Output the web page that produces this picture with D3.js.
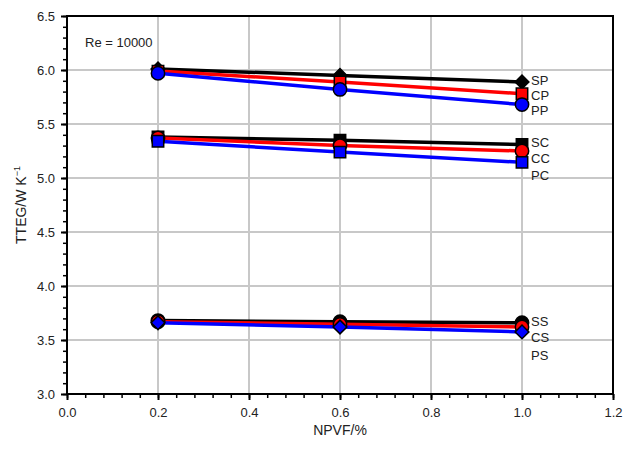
<!DOCTYPE html>
<html>
<head>
<meta charset="utf-8">
<script src="https://cdn.jsdelivr.net/npm/d3@7"></script>
<style>
  body { margin: 0; background: #fff; }
  svg { font-family: "Liberation Sans", Arial, sans-serif; }
  .grid line { stroke: #c8c8c8; stroke-width: 2; }
  .tick-label { font-size: 13px; fill: #222; }
  .series-label { font-size: 13px; fill: #222; }
</style>
</head>
<body>
<svg width="623" height="456"></svg>
<script>
// data
const npvf = [0.2, 0.6, 1.0];
const names = ["SP", "CP", "PP", "SC", "CC", "PC", "SS", "CS", "PS"];
const colors = ["#000", "#ff0000", "#0000ff", "#000", "#ff0000", "#0000ff", "#000", "#ff0000", "#0000ff"];
const markers = ["diamond", "square", "circle", "square", "circle", "square", "circle", "circle", "diamond"];
const SP = [6.01, 5.95, 5.89];
const CP = [5.99, 5.89, 5.78];
const PP = [5.97, 5.82, 5.68];
const SC = [5.38, 5.35, 5.31];
const CC = [5.37, 5.30, 5.25];
const PC = [5.34, 5.24, 5.145];
const SS = [3.68, 3.67, 3.66];
const CS = [3.67, 3.645, 3.62];
const PS = [3.66, 3.62, 3.575];
const values = [SP, CP, PP, SC, CC, PC, SS, CS, PS];
const labelY = [5.905, 5.765, 5.625, 5.33, 5.18, 5.02, 3.675, 3.52, 3.36];
const xTicks = [0, 0.2, 0.4, 0.6, 0.8, 1.0, 1.2];
const yTicks = [3.0, 3.5, 4.0, 4.5, 5.0, 5.5, 6.0, 6.5];

const svg = d3.select("svg");
const pLeft = 67, pRight = 613, pTop = 16, pBottom = 394;
const x = d3.scaleLinear().domain([0, 1.2]).range([pLeft, pRight]);
const y = d3.scaleLinear().domain([3.0, 6.5]).range([pBottom, pTop]);

// grid
const grid = svg.append("g").attr("class", "grid");
grid.selectAll(".gx").data(xTicks.slice(1, -1)).enter().append("line")
    .attr("x1", d => x(d)).attr("x2", d => x(d))
    .attr("y1", pTop).attr("y2", pBottom);
grid.selectAll(".gy").data(yTicks.slice(1, -1)).enter().append("line")
    .attr("x1", pLeft).attr("x2", pRight)
    .attr("y1", d => y(d)).attr("y2", d => y(d));

// axes with minor ticks
const xMinor = d3.range(0, 1.2001, 0.04);
const yMinor = d3.range(3.0, 6.5001, 0.1);
svg.append("g").attr("transform", `translate(0,${pBottom})`)
    .call(d3.axisBottom(x).tickValues(xMinor).tickSize(4).tickFormat(""))
    .call(g => g.selectAll("line").attr("stroke-width", 1.5))
    .call(g => g.select(".domain").remove());
svg.append("g").attr("transform", `translate(0,${pBottom})`)
    .call(d3.axisBottom(x).tickValues(xTicks).tickSize(6).tickPadding(8).tickFormat(d3.format(".1f")))
    .call(g => g.selectAll("line").attr("stroke-width", 2))
    .call(g => g.select(".domain").remove())
    .call(g => g.selectAll("text").attr("class", "tick-label"));
svg.append("g").attr("transform", `translate(${pLeft},0)`)
    .call(d3.axisLeft(y).tickValues(yMinor).tickSize(4).tickFormat(""))
    .call(g => g.selectAll("line").attr("stroke-width", 1.5))
    .call(g => g.select(".domain").remove());
svg.append("g").attr("transform", `translate(${pLeft},0)`)
    .call(d3.axisLeft(y).tickValues(yTicks).tickSize(6).tickPadding(6).tickFormat(d3.format(".1f")))
    .call(g => g.selectAll("line").attr("stroke-width", 2))
    .call(g => g.select(".domain").remove())
    .call(g => g.selectAll("text").attr("class", "tick-label"));
svg.selectAll("g").attr("font-family", null).attr("font-size", null);

// frame
svg.append("rect").attr("x", pLeft).attr("y", pTop)
    .attr("width", pRight - pLeft).attr("height", pBottom - pTop)
    .attr("fill", "none").attr("stroke", "#000").attr("stroke-width", 2);

// series
const line = d3.line().x((d, i) => x(npvf[i])).y(d => y(d));
const symbolFor = {
    diamond: d3.symbol().type(d3.symbolSquare).size(95),
    square: d3.symbol().type(d3.symbolSquare).size(130),
    circle: d3.symbol().type(d3.symbolCircle).size(140)
};
// draw per group so black is under red, red under blue
for (let g = 0; g < 3; g++) {
    for (let k = 0; k < 3; k++) {
        const s = g * 3 + k;
        svg.append("path").datum(values[s])
            .attr("d", line).attr("fill", "none")
            .attr("stroke", colors[s]).attr("stroke-width", 3.5);
    }
    for (let k = 0; k < 3; k++) {
        const s = g * 3 + k;
        svg.selectAll(null).data(values[s]).enter().append("path")
            .attr("d", symbolFor[markers[s]]())
            .attr("transform", (d, i) => `translate(${x(npvf[i])},${y(d)})` + (markers[s] === "diamond" ? " rotate(45)" : ""))
            .attr("fill", colors[s]).attr("stroke", "#000").attr("stroke-width", 1.5);
    }
}

// series labels
svg.selectAll(".series-label").data(names).enter().append("text")
    .attr("class", "series-label")
    .attr("x", x(1.0) + 9)
    .attr("y", (d, i) => y(labelY[i]))
    .attr("dy", "0.35em")
    .text(d => d);

svg.append("text").attr("x", 85).attr("y", 47).attr("font-size", 13).attr("fill", "#222")
    .text("Re = 10000");

// axis titles
svg.append("text").attr("x", (pLeft + pRight) / 2).attr("y", 435)
    .attr("text-anchor", "middle").attr("font-size", 14).attr("fill", "#222")
    .text("NPVF/%");
const yt = svg.append("text")
    .attr("transform", `translate(26,${(pTop + pBottom) / 2}) rotate(-90)`)
    .attr("text-anchor", "middle").attr("font-size", 14).attr("fill", "#222");
yt.append("tspan").text("TTEG/W K");
yt.append("tspan").attr("font-size", 9).attr("dy", -6).text("\u22121");
</script>
</body>
</html>
